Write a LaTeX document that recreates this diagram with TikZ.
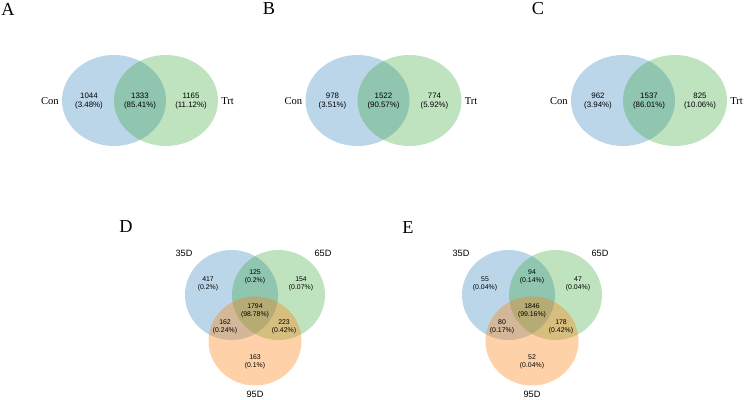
\documentclass[tikz,border=0pt]{standalone}
\usepackage{fontspec}
\setmainfont{Liberation Serif}
\newfontfamily\numfont{Liberation Sans}
\usetikzlibrary{positioning}
\definecolor{SetBlue}{HTML}{1F77B4}
\definecolor{SetGreen}{HTML}{2CA02C}
\definecolor{SetOrange}{HTML}{FF7F0E}

\begin{document}
\begin{tikzpicture}[x=0.025cm,y=-0.025cm,
    blueset/.style={fill=SetBlue, fill opacity=0.3},
    greenset/.style={fill=SetGreen, fill opacity=0.3},
    orangeset/.style={fill=SetOrange, fill opacity=0.36},
    tag/.style={font=\fontsize{13}{13}\selectfont, inner sep=0pt},
    setname/.style={font=\fontsize{7.5}{8}\selectfont, inner sep=0pt},
    daysname/.style={font=\numfont\fontsize{6.5}{7}\selectfont, inner sep=0pt},
    num/.style={font=\numfont\fontsize{5.6}{6.4}\selectfont, align=center, inner sep=0pt},
    smallnum/.style={font=\numfont\fontsize{4.9}{5.7}\selectfont, align=center, inner sep=0pt}]
    \useasboundingbox (0,0) rectangle (746,400);
    % two-set panels
    \foreach \p/\lx/\tx/\a/\pa/\b/\pb/\c/\pc in {A/114/8/1044/3.48/1333/85.41/1165/11.12,
        B/357.5/269/978/3.51/1522/90.57/774/5.92, C/623/538/962/3.94/1537/86.01/825/10.06} {
      \fill[blueset] (\lx,100.5) ellipse [x radius=52, y radius=45.5];
      \fill[greenset] (\lx+52,100.5) ellipse [x radius=52, y radius=45.5];
      \node[tag] (tag\p) at (\tx,9) {\p};
      \node[setname, anchor=east] (con\p) at (\lx-55,101) {Con};
      \node[setname, anchor=west] (trt\p) at (\lx+52+55,101) {Trt};
      \node[num] (only\p) at (\lx-25,101) {\a\\(\pa\%)};
      \node[num] (both\p) at (\lx+26,101) {\b\\(\pb\%)};
      \node[num] (other\p) at (\lx+52+25,101) {\c\\(\pc\%)};
    }
    % three-set panels
    \foreach \p/\m/\tx/\ty/\a/\pa/\ab/\pab/\b/\pb/\abc/\pabc/\ac/\pac/\bc/\pbc/\c/\pc in {
        D/255/126/227/417/0.2/125/0.2/154/0.07/1794/98.78/162/0.24/223/0.42/163/0.1,
        E/532/408/228/55/0.04/94/0.14/47/0.04/1846/99.16/80/0.17/178/0.42/52/0.04} {
      \fill[blueset] (\m-23.5,295) ellipse [x radius=46.5, y radius=45];
      \fill[greenset] (\m+23.5,295) ellipse [x radius=46.5, y radius=45];
      \fill[orangeset] (\m,341) ellipse [x radius=46.5, y radius=44.5];
      \node[tag] (tag\p) at (\tx,\ty) {\p};
      \node[daysname] (first\p) at (\m-71,253) {35D};
      \node[daysname] (second\p) at (\m+68,253) {65D};
      \node[daysname] (third\p) at (\m,394) {95D};
      \node[smallnum] (a\p) at (\m-47,284) {\a\\(\pa\%)};
      \node[smallnum] (ab\p) at (\m,277) {\ab\\(\pab\%)};
      \node[smallnum] (b\p) at (\m+46,284) {\b\\(\pb\%)};
      \node[smallnum] (abc\p) at (\m,311) {\abc\\(\pabc\%)};
      \node[smallnum] (ac\p) at (\m-30,327) {\ac\\(\pac\%)};
      \node[smallnum] (bc\p) at (\m+29,327) {\bc\\(\pbc\%)};
      \node[smallnum] (c\p) at (\m,362) {\c\\(\pc\%)};
    }
  \end{tikzpicture}
\end{document}
